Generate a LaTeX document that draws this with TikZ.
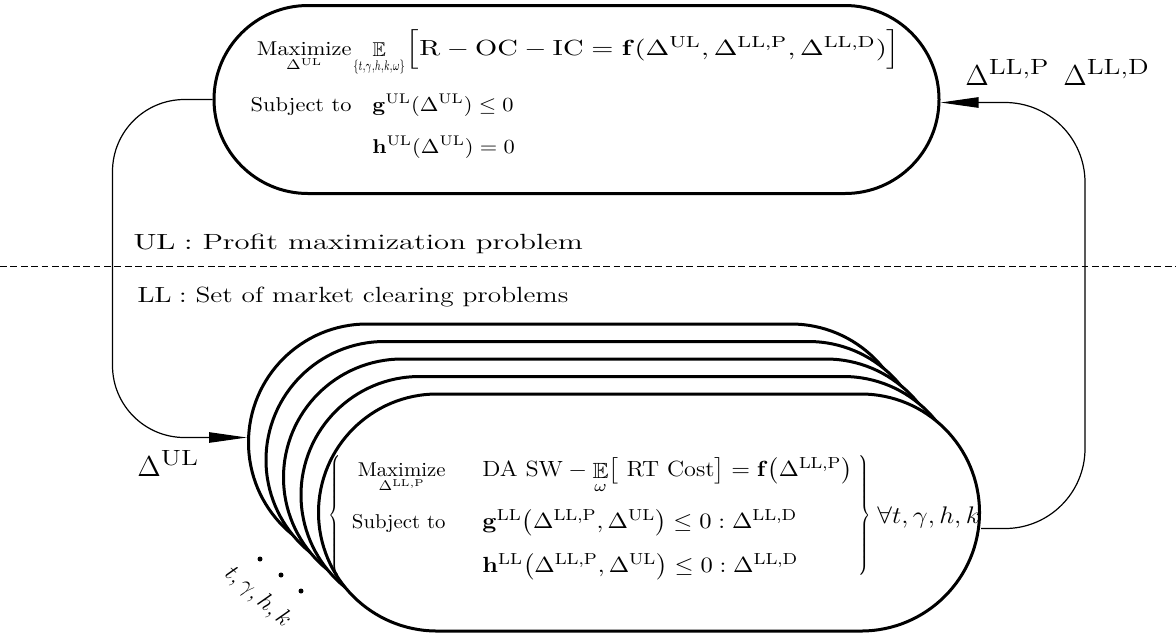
\documentclass[tikz,border=0pt]{standalone}
\usepackage{amsmath,amssymb,graphicx}
\usetikzlibrary{shapes.misc,arrows.meta}
\newcommand{\suplab}[1]{\text{\fontsize{11}{12}\selectfont\scalebox{1.25}[1]{#1}}}
\begin{document}
\begin{tikzpicture}[x=0.5pt,y=0.5pt,
  box/.style={rounded rectangle, draw, line width=1.5pt, fill=white, inner sep=0pt},
  conn/.style={line width=0.6pt, -{Triangle[length=19pt,width=5.2pt]}},
  lab/.style={inner sep=0pt, transform shape},
  toptxt/.style={lab, xscale=1.12},
  lowtxt/.style={lab, xscale=1.04},
  wide/.style={lab, font=\fontsize{11}{13}\selectfont},
  dotmark/.style={fill=black}]
\useasboundingbox (0,0) rectangle (1176,-639);

% upper-level problem
\node[box, minimum width=362.5pt, minimum height=94pt] (top) at (576.5,-99.5) {};
\node[toptxt, anchor=base east] (tmax) at (352,-55) {$\underset{\Delta^{\mathrm{UL}}}{\text{Maximize}}$};
\node[lab, anchor=base west] (tE) at (353,-55) {$\mathop{\mathbb{E}}\limits_{\scalebox{0.65}[1]{$\scriptstyle\{t,\gamma,h,k,\omega\}$}}$};
\node[wide, anchor=base west, xscale=1.3] (tobj) at (tE.base east) {$\Bigl[\mathrm{R}-\mathrm{OC}-\mathrm{IC}=\mathbf{f}(\Delta^{\mathrm{UL}},\Delta^{\mathrm{LL,P}},\Delta^{\mathrm{LL,D}})\Bigr]$};
\node[toptxt, anchor=base east] (tsub) at (352,-111) {Subject to};
\node[toptxt, anchor=base west] (tg) at (372,-111) {$\mathbf{g}^{\mathrm{UL}}(\Delta^{\mathrm{UL}})\le 0$};
\node[toptxt, anchor=base west] (th) at (372,-153) {$\mathbf{h}^{\mathrm{UL}}(\Delta^{\mathrm{UL}})=0$};

% separator and level labels
\coordinate (dl) at (0,-266);
\coordinate (dr) at (1176,-266);
\draw[line width=0.5pt, dash pattern=on 3.4pt off 1.8pt] (dl) -- (dr);
\node[wide, anchor=base west, xscale=1.395] (ullab) at (133,-249) {$\mathrm{UL}:$ Profit maximization problem};
\node[wide, anchor=base west, xscale=1.243] (lllab) at (137,-302) {$\mathrm{LL}:$ Set of market clearing problems};

% lower-level stack
\foreach \i/\n in {4/b4,3/b3,2/b2,1/b1,0/front}{
  \node[box, minimum width=330.5pt, minimum height=118.5pt] (\n) at (649-17.5*\i,-512.5+17.5*\i) {};
}
\node[lab, anchor=center, xscale=0.7] (lbr) at (336,-516.5) {$\left\{\vrule height 29pt depth 29pt width 0pt\right.$};
\node[lab, anchor=center, xscale=0.7] (rbr) at (864,-516.5) {$\left.\vrule height 29pt depth 29pt width 0pt\right\}$};
\node[lowtxt, anchor=base east] (lmax) at (446,-476) {$\underset{\Delta^{\mathrm{LL,P}}}{\text{Maximize}}$};
\node[wide, anchor=base west, xscale=1.1] (lobj) at (482,-476) {$\text{DA SW}-\mathop{\mathbb{E}}\limits_{\omega}\bigl[\text{ RT Cost}\bigr]=\mathbf{f}\bigl(\Delta^{\mathrm{LL,P}}\bigr)$};
\node[lowtxt, anchor=base east] (lsub) at (446,-528) {Subject to};
\node[wide, anchor=base west, xscale=1.12] (lg) at (482,-528) {$\mathbf{g}^{\mathrm{LL}}\bigl(\Delta^{\mathrm{LL,P}},\Delta^{\mathrm{UL}}\bigr)\le 0:\Delta^{\mathrm{LL,D}}$};
\node[wide, anchor=base west, xscale=1.12] (lh) at (482,-572) {$\mathbf{h}^{\mathrm{LL}}\bigl(\Delta^{\mathrm{LL,P}},\Delta^{\mathrm{UL}}\bigr)\le 0:\Delta^{\mathrm{LL,D}}$};
\node[lab, anchor=base west, xscale=1.1] (forall) at (877,-523) {\fontsize{12}{14}\selectfont$\forall t,\gamma,h,k$};

% index dots and label
\fill[dotmark] (260,-559) circle (2.5);
\fill[dotmark] (281,-575) circle (2.5);
\fill[dotmark] (301,-591) circle (2.5);
\node[rotate=-41, inner sep=0pt] (idx) at (258,-597) {\large$t,\gamma,h,k$};

% exchanged variables
\node[lab, anchor=base west] (dul) at (137,-476) {\Large$\Delta^{\suplab{UL}}$};
\node[lab, anchor=base west] (dll) at (965,-85) {\Large$\Delta^{\suplab{LL,P}}\hspace{7pt}\Delta^{\suplab{LL,D}}$};

% connectors
\draw[conn, rounded corners=36pt] (top.west) -- ++(-100,0) |- ([yshift=2.5pt]b4.west);
\draw[conn, rounded corners=40pt] ([yshift=-8pt]front.east) -- ++(104,0) |- ([yshift=-1.5pt]top.east);
\end{tikzpicture}
\end{document}
